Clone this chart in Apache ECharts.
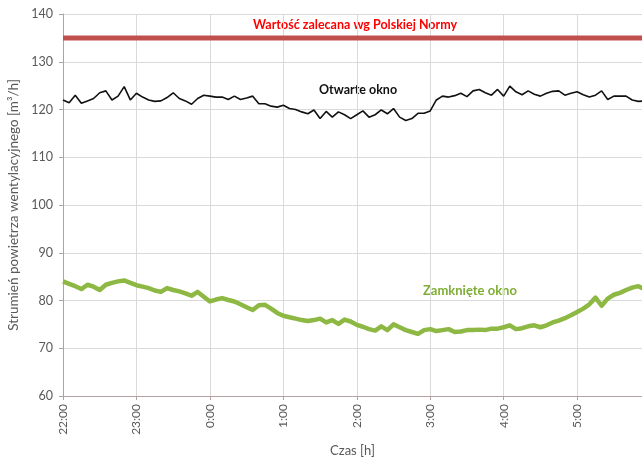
<!DOCTYPE html>
<html>
<head>
<meta charset="utf-8">
<script src="https://cdn.jsdelivr.net/npm/echarts@6/dist/echarts.min.js"></script>
<style>
  html, body { margin: 0; padding: 0; background: #fff; }
  #chart { width: 642px; height: 457px; }
</style>
</head>
<body>
<div id="chart"></div>
<script>
// minutes after 22:00, one reading every 5 minutes
const STEP = 5
const hourLabels = ['22:00', '23:00', '0:00', '1:00', '2:00', '3:00', '4:00', '5:00', '6:00']

const otwarte = [
  122.0, 121.4, 123.0, 121.3, 121.8, 122.3, 123.5, 123.9, 122.0, 122.8,
  124.8, 122.0, 123.4, 122.6, 122.0, 121.7, 121.8, 122.5, 123.5, 122.3,
  121.8, 121.1, 122.3, 123.0, 122.8, 122.6, 122.6, 122.1, 122.8, 122.1,
  122.4, 122.8, 121.2, 121.2, 120.7, 120.5, 120.9, 120.2, 120.0, 119.5,
  119.1, 119.9, 118.1, 119.6, 118.4, 119.5, 118.9, 118.1, 118.9, 119.7,
  118.4, 118.9, 119.9, 119.1, 120.2, 118.4, 117.7, 118.1, 119.2, 119.2,
  119.7, 122.0, 122.8, 122.6, 122.9, 123.4, 122.7, 123.9, 124.2, 123.5,
  123.0, 124.2, 122.8, 124.9, 123.7, 123.1, 123.9, 123.2, 122.8, 123.4,
  123.8, 123.9, 123.0, 123.4, 123.7, 123.1, 122.6, 123.0, 123.9, 122.1,
  122.8, 122.8, 122.8, 122.0, 121.7, 121.8
]

const zamkniete = [
  84.0, 83.5, 83.0, 82.4, 83.3, 82.9, 82.2, 83.3, 83.7, 84.0,
  84.2, 83.7, 83.2, 82.9, 82.6, 82.1, 81.8, 82.6, 82.2, 81.9,
  81.5, 81.0, 81.8, 80.8, 79.8, 80.2, 80.5, 80.1, 79.8, 79.2,
  78.6, 78.0, 79.0, 79.1, 78.3, 77.4, 76.8, 76.5, 76.2, 75.9,
  75.7, 75.9, 76.2, 75.4, 75.9, 75.1, 76.0, 75.6, 74.9, 74.5,
  74.0, 73.7, 74.6, 73.8, 75.0, 74.4, 73.8, 73.4, 73.0, 73.8,
  74.0, 73.6, 73.8, 74.0, 73.4, 73.5, 73.8, 73.8, 73.9, 73.8,
  74.1, 74.1, 74.4, 74.8, 74.0, 74.2, 74.6, 74.8, 74.4, 74.8,
  75.4, 75.8, 76.3, 76.9, 77.6, 78.3, 79.2, 80.6, 78.9, 80.4,
  81.2, 81.6, 82.2, 82.7, 83.0, 82.4
]

const norma = 135
const xMax = 473

const chart = echarts.init(document.getElementById('chart'))
const font = 'Lato, "Open Sans", sans-serif'

const pairs = arr => arr.map((v, i) => [i * STEP, v])

chart.setOption({
  animation: false,
  textStyle: { fontFamily: font },
  grid: { left: 63, top: 14, right: 0, bottom: 61, containLabel: false, outerBoundsMode: 'none' },
  xAxis: {
    type: 'value',
    min: 0,
    max: xMax,
    interval: 60,
    name: 'Czas [h]',
    nameLocation: 'middle',
    nameGap: 48,
    nameTextStyle: { color: '#595959', fontSize: 13, fontFamily: font },
    axisLine: { lineStyle: { color: '#B3A2A2', width: 1 } },
    axisTick: { show: true, length: 4, lineStyle: { color: '#B3A2A2' } },
    axisLabel: {
      rotate: 90,
      color: '#595959',
      fontSize: 12,
      fontFamily: font,
      showMaxLabel: false,
      formatter: v => hourLabels[Math.round(v / 60)] || ''
    },
    splitLine: { show: true, lineStyle: { color: '#D9D9D9', width: 1 } }
  },
  yAxis: {
    type: 'value',
    min: 60,
    max: 140,
    interval: 10,
    name: 'Strumień powietrza wentylacyjnego [m³/h]',
    nameLocation: 'middle',
    nameGap: 40,
    nameTextStyle: { color: '#595959', fontSize: 13.5, fontFamily: font },
    axisLine: { show: true, lineStyle: { color: '#B3A2A2', width: 1 } },
    axisTick: { show: true, length: 4, lineStyle: { color: '#B3A2A2' } },
    axisLabel: { color: '#595959', fontSize: 12.5, fontFamily: font, margin: 10 },
    splitLine: { show: true, lineStyle: { color: '#D9D9D9', width: 1 } }
  },
  series: [
    {
      name: 'Wartość zalecana wg Polskiej Normy',
      type: 'line',
      data: [[0, norma], [xMax, norma]],
      symbol: 'none',
      lineStyle: { color: '#C0504D', width: 5 },
      z: 3
    },
    {
      name: 'Otwarte okno',
      type: 'line',
      data: pairs(otwarte),
      symbol: 'none',
      lineStyle: { color: '#111111', width: 1.6 },
      z: 4
    },
    {
      name: 'Zamknięte okno',
      type: 'line',
      data: pairs(zamkniete),
      symbol: 'none',
      lineStyle: { color: '#8DB843', width: 4.5, join: 'round' },
      z: 4
    }
  ],
  graphic: [
    {
      type: 'text',
      left: 253,
      top: 18,
      style: { text: 'Wartość zalecana wg Polskiej Normy', fill: '#FF0000', font: 'bold 12.5px ' + font }
    },
    {
      type: 'text',
      left: 319,
      top: 83,
      style: { text: 'Otwarte okno', fill: '#111111', font: 'bold 12.5px ' + font }
    },
    {
      type: 'text',
      left: 423,
      top: 284,
      style: { text: 'Zamknięte okno', fill: '#7FAE36', font: 'bold 13px ' + font }
    }
  ]
})
</script>
</body>
</html>
